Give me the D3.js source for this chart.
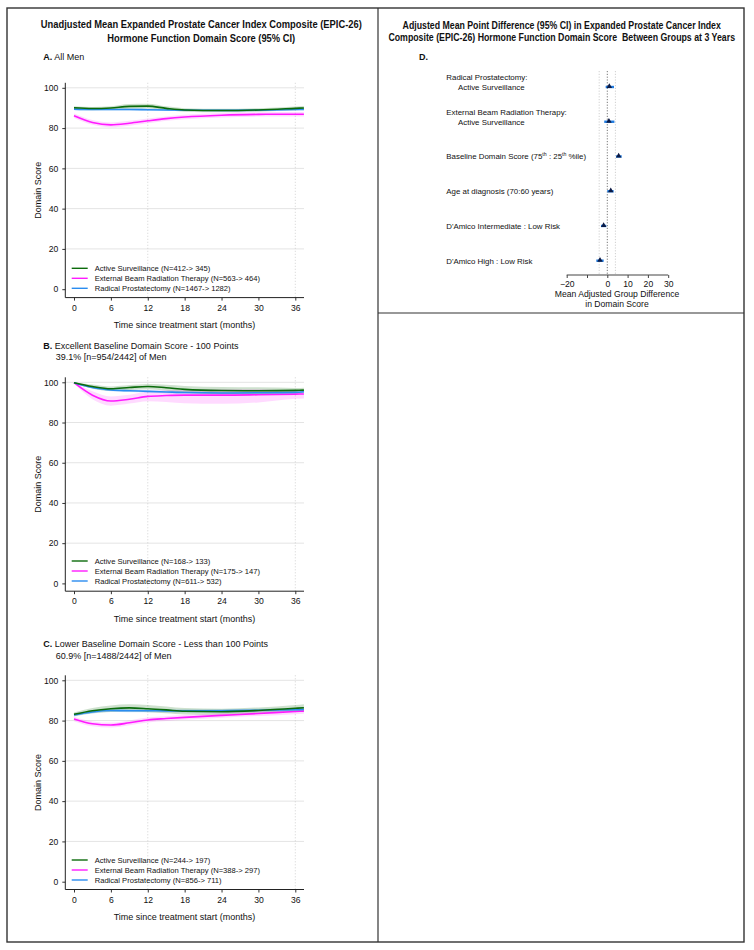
<!DOCTYPE html>
<html><head><meta charset="utf-8">
<script src="https://cdn.jsdelivr.net/npm/d3@7"></script>
<style>
body{margin:0;background:#fff;}
svg{display:block;font-family:"Liberation Sans",Arial,Helvetica,sans-serif;}
</style></head>
<body>
<svg id="c" width="754" height="950"></svg>
<script>
// ---------- DATA ----------
const months = [0, 3, 6, 9, 12, 15, 18, 24, 30, 36, 37.4];
const xTicks = [0, 6, 12, 18, 24, 30, 36];
const yTicks = [0, 20, 40, 60, 80, 100];
const groupNames = ["Active Surveillance", "External Beam Radiation Therapy", "Radical Prostatectomy"];

// Panel A: All Men
const asA    = [90.1, 89.7, 90.0, 90.8, 90.9, 89.8, 89.0, 88.7, 89.0, 89.8, 90.0];
const asA_lo = [89.4, 88.9, 89.1, 89.6, 89.7, 88.8, 88.1, 87.8, 88.1, 88.9, 89.0];
const asA_hi = [90.8, 90.5, 90.9, 92.0, 92.1, 90.8, 89.9, 89.6, 89.9, 90.7, 91.0];
const ebA    = [86.1, 82.8, 81.6, 82.4, 83.6, 84.7, 85.5, 86.4, 86.8, 86.9, 86.9];
const ebA_lo = [85.0, 81.6, 80.4, 81.2, 82.4, 83.6, 84.4, 85.3, 85.7, 85.8, 85.8];
const ebA_hi = [87.2, 84.0, 82.8, 83.6, 84.8, 85.8, 86.6, 87.5, 87.9, 88.0, 88.0];
const rpA    = [89.4, 89.2, 89.2, 89.2, 89.1, 89.0, 88.9, 88.8, 88.9, 89.2, 89.3];
const rpA_lo = [88.9, 88.7, 88.7, 88.7, 88.6, 88.5, 88.4, 88.3, 88.4, 88.7, 88.8];
const rpA_hi = [89.9, 89.7, 89.7, 89.7, 89.6, 89.5, 89.4, 89.3, 89.4, 89.7, 89.8];
const nA = ["N=412-> 345", "N=563-> 464", "N=1467-> 1282"];

// Panel B: Excellent baseline
const asB    = [99.8, 97.9, 96.8, 97.4, 97.9, 97.3, 96.5, 95.9, 95.8, 96.0, 96.1];
const asB_lo = [99.4, 96.9, 95.7, 96.2, 96.6, 95.8, 94.8, 94.1, 94.1, 94.8, 94.9];
const asB_hi = [100.0, 98.9, 97.9, 98.6, 99.2, 98.8, 98.2, 97.7, 97.5, 97.2, 97.3];
const ebB    = [99.8, 93.6, 90.7, 91.6, 93.0, 93.4, 93.6, 93.6, 93.8, 94.1, 94.2];
const ebB_lo = [99.4, 91.6, 88.4, 89.4, 90.6, 90.2, 89.6, 89.3, 90.0, 91.8, 92.0];
const ebB_hi = [100.0, 95.6, 93.0, 93.8, 95.4, 96.0, 96.4, 96.6, 96.5, 95.9, 95.9];
const rpB    = [99.8, 97.4, 96.2, 95.8, 95.5, 95.2, 94.9, 94.7, 94.8, 95.0, 95.3];
const rpB_lo = [99.5, 96.8, 95.6, 95.2, 94.9, 94.6, 94.3, 94.1, 94.2, 94.4, 94.7];
const rpB_hi = [100.0, 98.0, 96.8, 96.4, 96.1, 95.8, 95.5, 95.3, 95.4, 95.6, 95.9];
const nB = ["N=168-> 133", "N=175-> 147", "N=611-> 532"];

// Panel C: Lower baseline
const asC    = [83.1, 84.9, 85.9, 86.3, 85.9, 85.3, 84.6, 84.4, 85.0, 86.1, 86.4];
const asC_lo = [82.2, 83.6, 84.3, 84.5, 84.1, 83.6, 83.0, 82.9, 83.5, 84.5, 84.7];
const asC_hi = [84.0, 86.2, 87.5, 88.1, 87.7, 87.0, 86.2, 85.9, 86.5, 87.7, 88.1];
const ebC    = [80.8, 78.4, 77.8, 78.9, 80.3, 81.0, 81.6, 82.6, 83.5, 84.5, 84.7];
const ebC_lo = [79.7, 77.2, 76.6, 77.7, 79.1, 79.8, 80.4, 81.4, 82.3, 83.2, 83.4];
const ebC_hi = [81.9, 79.6, 79.0, 80.1, 81.5, 82.2, 82.8, 83.8, 84.7, 85.8, 86.0];
const rpC    = [82.8, 84.3, 85.0, 84.9, 84.9, 84.8, 84.8, 84.9, 85.1, 85.4, 85.5];
const rpC_lo = [82.0, 83.5, 84.2, 84.1, 84.1, 84.0, 84.0, 84.1, 84.3, 84.6, 84.7];
const rpC_hi = [83.6, 85.1, 85.8, 85.7, 85.7, 85.6, 85.6, 85.7, 85.9, 86.2, 86.3];
const nC = ["N=244-> 197", "N=388-> 297", "N=856-> 711"];

// Panel D: forest plot
const forestRows = ["rp", "eb", "base", "age", "dint", "dhigh"];
const forestEst = [1.0, 0.8, 5.6, 1.7, -1.8, -3.6];
const forestLo  = [-0.8, -1.5, 4.3, 0.0, -3.1, -5.4];
const forestHi  = [3.3, 3.5, 7.1, 3.1, -0.5, -1.8];
const forestTicks = [-20, -10, 0, 10, 20, 30];
const forestTickLabels = ["\u221220", "", "0", "10", "20", "30"];

// ---------- STYLE ----------
const colAS = "#0b6b0b", colEB = "#ff1aff", colRP = "#2a8cf0";
const svg = d3.select("#c");

// frame
svg.append("rect").attr("x", 7).attr("y", 8).attr("width", 737).attr("height", 934)
  .attr("fill", "none").attr("stroke", "#333").attr("stroke-width", 1.4);
svg.append("line").attr("x1", 378).attr("x2", 378).attr("y1", 8).attr("y2", 942)
  .attr("stroke", "#333").attr("stroke-width", 1.2);
svg.append("line").attr("x1", 378).attr("x2", 744).attr("y1", 313).attr("y2", 313)
  .attr("stroke", "#333").attr("stroke-width", 1.2);

// titles (condensed bold, scaled horizontally to the reference width)
function titleLine(x, y, text, len) {
  const t = svg.append("text").attr("x", 0).attr("y", 0).attr("text-anchor", "middle")
    .attr("font-size", 10.5).attr("font-weight", "bold").attr("fill", "#111")
    .style("white-space", "pre").text(text);
  const w = t.node().getComputedTextLength();
  const s = Math.min(1, len / w);
  t.attr("transform", `translate(${x},${y}) scale(${s},1)`);
}
titleLine(201.3, 27.8, "Unadjusted Mean Expanded Prostate Cancer Index Composite (EPIC-26)", 321);
titleLine(201.2, 41.8, "Hormone Function Domain Score (95% CI)", 188);
titleLine(561.7, 28.6, "Adjusted Mean Point Difference (95% CI) in Expanded Prostate Cancer Index", 319);
titleLine(561.7, 41.0, "Composite (EPIC-26) Hormone Function Domain Score  Between Groups at 3 Years", 347);

// ---------- LINE PANELS ----------
const xL = 65.3, xR = 304;
const x = d3.scaleLinear().domain([0, 36]).range([74, 295.3]);

function drawPanel(p) {
  const g = svg.append("g");
  const y = d3.scaleLinear().domain([0, 100]).range([p.y0, p.y100]);
  const top = p.y100 - 5;

  // panel label
  const lab = g.append("text").attr("x", 43.3).attr("y", p.labelY).attr("font-size", 9).attr("fill", "#111");
  lab.append("tspan").attr("font-weight", "bold").text(p.letter + ".");
  lab.append("tspan").text(" " + p.label);
  if (p.label2) g.append("text").attr("x", 55.7).attr("y", p.labelY + 11.3).attr("font-size", 9).attr("fill", "#111").text(p.label2);

  // grid
  g.selectAll(".hg").data(yTicks.filter(d => d > 0)).join("line")
    .attr("x1", xL).attr("x2", xR).attr("y1", d => y(d)).attr("y2", d => y(d))
    .attr("stroke", "#e4e4e4").attr("stroke-width", 1);
  g.selectAll(".vg").data([12, 36]).join("line")
    .attr("x1", d => x(d)).attr("x2", d => x(d)).attr("y1", top).attr("y2", p.axisY)
    .attr("stroke", "#c8c8c8").attr("stroke-width", 0.8).attr("stroke-dasharray", "1,2");

  const series = [
    {v: p.eb, lo: p.ebLo, hi: p.ebHi, c: colEB, bandOp: 0.16},
    {v: p.rp, lo: p.rpLo, hi: p.rpHi, c: colRP, bandOp: 0.2},
    {v: p.as, lo: p.asLo, hi: p.asHi, c: colAS, bandOp: 0.2}
  ];
  const area = d3.area().x((d, i) => x(months[i])).curve(d3.curveMonotoneX);
  const line = d3.line().x((d, i) => x(months[i])).y(d => y(d)).curve(d3.curveMonotoneX);
  series.forEach(s => {
    g.append("path")
      .attr("d", area.y0((d) => y(d)).y1((d, i) => y(s.hi[i]))(s.lo))
      .attr("fill", s.c).attr("fill-opacity", s.bandOp).attr("stroke", "none");
  });
  series.forEach(s => {
    g.append("path").attr("d", line(s.v)).attr("fill", "none")
      .attr("stroke", s.c).attr("stroke-width", 1.6);
  });

  // axes
  const ya = g.append("g").attr("transform", `translate(${xL},0)`)
    .call(d3.axisLeft(y).tickValues(yTicks).tickSize(3).tickPadding(4));
  ya.select(".domain").remove();
  ya.selectAll("text").attr("font-size", 8.6).attr("font-family", null).attr("fill", "#111");
  ya.selectAll("line").attr("stroke", "#333");
  g.append("line").attr("x1", xL).attr("x2", xL).attr("y1", top).attr("y2", p.axisY).attr("stroke", "#222").attr("stroke-width", 1);

  const xa = g.append("g").attr("transform", `translate(0,${p.axisY})`)
    .call(d3.axisBottom(x).tickValues(xTicks).tickSize(3).tickPadding(4));
  xa.select(".domain").remove();
  xa.selectAll("text").attr("font-size", 8.6).attr("font-family", null).attr("fill", "#111");
  xa.selectAll("line").attr("stroke", "#333");
  g.append("line").attr("x1", xL).attr("x2", xR).attr("y1", p.axisY).attr("y2", p.axisY).attr("stroke", "#222").attr("stroke-width", 1);

  g.append("text").attr("x", 184.5).attr("y", p.axisY + 30.5).attr("text-anchor", "middle")
    .attr("font-size", 9).attr("fill", "#111").text("Time since treatment start (months)");
  g.append("text").attr("transform", `translate(41.3,${(top + p.axisY) / 2}) rotate(-90)`)
    .attr("text-anchor", "middle").attr("font-size", 9).attr("fill", "#111").text("Domain Score");

  // legend
  const cols = [colAS, colEB, colRP];
  const lg = g.selectAll(".lg").data(groupNames).join("g")
    .attr("transform", (d, i) => `translate(0,${p.legY + i * 10})`);
  lg.append("line").attr("x1", 71.7).attr("x2", 87.7).attr("y1", 0).attr("y2", 0)
    .attr("stroke", (d, i) => cols[i]).attr("stroke-width", 1.4);
  lg.append("text").attr("x", 94.7).attr("y", 2.7).attr("font-size", 7.6).attr("fill", "#111")
    .text((d, i) => `${d} (${p.n[i]})`);
}

drawPanel({letter: "A", label: "All Men", labelY: 60.2, y100: 87.8, y0: 289.2, axisY: 297.6, legY: 268.3,
  as: asA, asLo: asA_lo, asHi: asA_hi, eb: ebA, ebLo: ebA_lo, ebHi: ebA_hi, rp: rpA, rpLo: rpA_lo, rpHi: rpA_hi, n: nA});
drawPanel({letter: "B", label: "Excellent Baseline Domain Score - 100 Points", label2: "39.1% [n=954/2442] of Men",
  labelY: 348.9, y100: 382.3, y0: 583.4, axisY: 591.2, legY: 561,
  as: asB, asLo: asB_lo, asHi: asB_hi, eb: ebB, ebLo: ebB_lo, ebHi: ebB_hi, rp: rpB, rpLo: rpB_lo, rpHi: rpB_hi, n: nB});
drawPanel({letter: "C", label: "Lower Baseline Domain Score - Less than 100 Points", label2: "60.9% [n=1488/2442] of Men",
  labelY: 647.2, y100: 680.3, y0: 881.7, axisY: 889.5, legY: 860,
  as: asC, asLo: asC_lo, asHi: asC_hi, eb: ebC, ebLo: ebC_lo, ebHi: ebC_hi, rp: rpC, rpLo: rpC_lo, rpHi: rpC_hi, n: nC});

// ---------- FOREST PANEL ----------
const fx = d3.scaleLinear().domain([-20, 30]).range([566.7, 668.2]);
const fy = d3.scalePoint().domain(forestRows).range([87, 260.7]);
const fg = svg.append("g");
fg.append("text").attr("x", 419).attr("y", 59.8).attr("font-size", 9).attr("font-weight", "bold").attr("fill", "#111").text("D.");

// reference lines
fg.append("line").attr("x1", fx(0)).attr("x2", fx(0)).attr("y1", 71).attr("y2", 274)
  .attr("stroke", "#555").attr("stroke-width", 0.8).attr("stroke-dasharray", "1.2,1.6");
[-4, 4].forEach(v => fg.append("line").attr("x1", fx(v)).attr("x2", fx(v)).attr("y1", 71).attr("y2", 274)
  .attr("stroke", "#c4c4c4").attr("stroke-width", 0.8).attr("stroke-dasharray", "1.2,1.6"));

// row labels
const fs = 7.9;
function rowText(xx, yy, t) { return fg.append("text").attr("x", xx).attr("y", yy).attr("font-size", fs).attr("fill", "#111").text(t); }
rowText(446.3, fy("rp") - 7, "Radical Prostatectomy:");
rowText(458, fy("rp") + 3, "Active Surveillance");
rowText(446.3, fy("eb") - 7, "External Beam Radiation Therapy:");
rowText(458, fy("eb") + 3, "Active Surveillance");
const bt = fg.append("text").attr("x", 446.3).attr("y", fy("base") + 3).attr("font-size", fs).attr("fill", "#111");
bt.append("tspan").text("Baseline Domain Score (75");
bt.append("tspan").attr("font-size", 5.2).attr("dy", -3).text("th");
bt.append("tspan").attr("dy", 3).text(" : 25");
bt.append("tspan").attr("font-size", 5.2).attr("dy", -3).text("th");
bt.append("tspan").attr("dy", 3).text(" %ile)");
rowText(446.3, fy("age") + 3, "Age at diagnosis (70:60 years)");
rowText(446.3, fy("dint") + 3, "D'Amico Intermediate : Low Risk");
rowText(446.3, fy("dhigh") + 3, "D'Amico High : Low Risk");

// CIs and points
fg.selectAll(".ci").data(forestRows).join("line")
  .attr("x1", (d, i) => fx(forestLo[i])).attr("x2", (d, i) => fx(forestHi[i]))
  .attr("y1", d => fy(d)).attr("y2", d => fy(d))
  .attr("stroke", "#1f7be0").attr("stroke-width", 2.4);
const tri = d3.symbol().type(d3.symbolTriangle).size(13);
fg.selectAll(".pt").data(forestRows).join("path")
  .attr("transform", (d, i) => `translate(${fx(forestEst[i])},${fy(d) - 0.5})`)
  .attr("d", tri()).attr("fill", "#0b1a45");

// axis
const fa = fg.append("g").attr("transform", "translate(0,275)")
  .call(d3.axisBottom(fx).tickValues(forestTicks).tickFormat((d, i) => forestTickLabels[i]).tickSize(3).tickPadding(3));
fa.select(".domain").attr("stroke", "#444").attr("d", `M${fx(-20)},0H${fx(30)}`);
fa.selectAll("line").attr("stroke", "#444");
fa.selectAll("text").attr("font-size", 8.6).attr("font-family", null).attr("fill", "#111");
fg.append("text").attr("x", 617).attr("y", 297.3).attr("text-anchor", "middle").attr("font-size", 8.6).attr("fill", "#111").text("Mean Adjusted Group Difference");
fg.append("text").attr("x", 617).attr("y", 307.3).attr("text-anchor", "middle").attr("font-size", 8.6).attr("fill", "#111").text("in Domain Score");
</script>
</body></html>
